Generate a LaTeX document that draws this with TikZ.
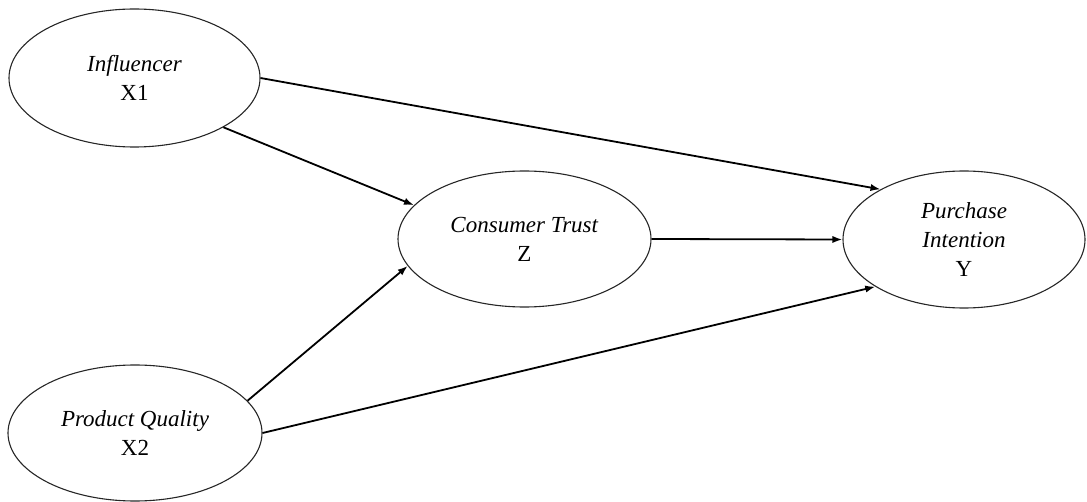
\documentclass[tikz,border=0pt]{standalone}
\usepackage{fontspec}
\setmainfont{Liberation Serif}
\usetikzlibrary{arrows.meta,shapes.geometric}
\tikzset{
  construct/.style={ellipse, draw=black!85, line width=0.55pt, inner sep=0pt, align=center,
    font=\fontsize{11.5}{14.5}\selectfont},
  path/.style={line width=0.9pt, -{Latex[length=5pt,width=3.6pt]}}
}
\begin{document}
\begin{tikzpicture}[x=0.5pt,y=-0.5pt]
\useasboundingbox (0,0) rectangle (1087,502);
\node[construct, minimum width=125.5pt, minimum height=69pt] (infl) at (134.5,78) {\textit{Influencer}\\X1};
\node[construct, minimum width=127pt, minimum height=68pt] (pq) at (135,433) {\textit{Product Quality}\\X2};
\node[construct, minimum width=126.5pt, minimum height=68pt] (ct) at (524.5,239) {\textit{Consumer Trust}\\Z};
\node[construct, minimum width=121pt, minimum height=68.5pt] (pi) at (964,239.5) {\textit{Purchase}\\\textit{Intention}\\Y};
\draw[path] (infl.-29) -- (ct.163.7);
\draw[path] (infl.0) -- (pi.149.6);
\draw[path] (ct.0) -- (pi.180);
\draw[path] (pq.16.7) -- (ct.193.2);
\draw[path] (pq.0) -- (pi.208.9);
\end{tikzpicture}
\end{document}
